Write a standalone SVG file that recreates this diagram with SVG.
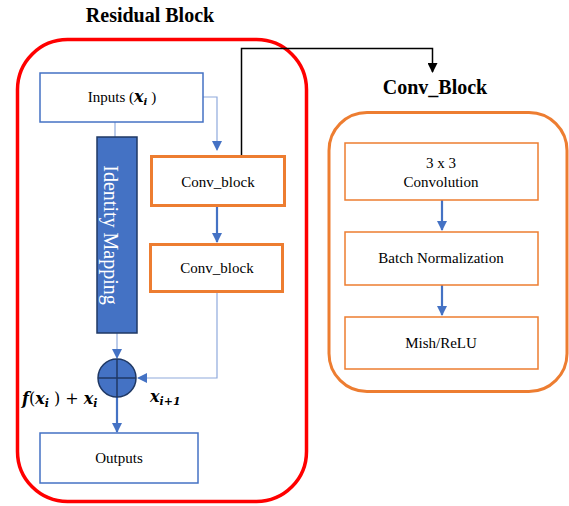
<svg xmlns="http://www.w3.org/2000/svg" width="569" height="506" viewBox="0 0 569 506">
<style>
.t{font-family:"Liberation Serif","Times New Roman",serif;font-size:15px;fill:#000;text-anchor:middle}
.h{font-family:"Liberation Serif","Times New Roman",serif;font-size:20px;font-weight:bold;fill:#000;text-anchor:middle}
.m{font-family:"DejaVu Serif","Liberation Serif",serif;font-style:italic;font-weight:bold;font-size:16px;fill:#000}
.bb{fill:#fff;stroke:#4472C4;stroke-width:1.5}
.ob{fill:#fff;stroke:#ED7D31;stroke-width:3}
.oi{fill:#fff;stroke:#ED7D31;stroke-width:1.5}
.thin{fill:none;stroke:#8FAADC;stroke-width:1.2}
.thick{fill:none;stroke:#4472C4;stroke-width:2.2}
</style>
<defs>
<marker id="ab" markerWidth="10" markerHeight="10" refX="9" refY="5" orient="auto" markerUnits="userSpaceOnUse"><path d="M0,0 L10,5 L0,10 Z" fill="#4472C4"/></marker>
<marker id="ak" markerWidth="10" markerHeight="10" refX="9" refY="5" orient="auto" markerUnits="userSpaceOnUse"><path d="M0,0 L10,5 L0,10 Z" fill="#000"/></marker>
</defs>
<text class="h" x="150" y="22">Residual Block</text>
<text class="h" x="435" y="94">Conv_Block</text>
<g id="residual-block"><rect x="17.5" y="39.5" width="289" height="462" rx="50" fill="none" stroke="#FF0000" stroke-width="3.5"/></g>
<g id="conv-block-container"><rect x="329" y="112.5" width="238" height="279" rx="38" fill="none" stroke="#ED7D31" stroke-width="3"/></g>
<g id="connectors">
<path class="thin" d="M203,97 H217 V150" marker-end="url(#ab)"/>
<path class="thin" d="M115,122 V137"/>
<path class="thick" d="M217,206 V242" marker-end="url(#ab)"/>
<path class="thin" d="M217,292 V378 H138" marker-end="url(#ab)"/>
<path class="thin" d="M117,333 V358" marker-end="url(#ab)"/>
<path class="thick" d="M117,397 V432" marker-end="url(#ab)"/>
<path d="M241.5,156 V48.5 H432.5 V72" fill="none" stroke="#000" stroke-width="1.5" marker-end="url(#ak)"/>
<path class="thick" d="M442,200 V230" marker-end="url(#ab)"/>
<path class="thick" d="M442,285 V315" marker-end="url(#ab)"/>
</g>
<g id="inputs"><rect class="bb" x="40" y="73" width="163" height="49"/><text class="t" x="122" y="102">Inputs (<tspan class="m" style="font-weight:bold;font-size:16px">x</tspan><tspan class="m" style="font-size:10px" dy="3">i</tspan><tspan dy="-3"> )</tspan></text></g>
<g id="identity-mapping"><rect x="97" y="137" width="40" height="196" fill="#4472C4" stroke="#1F3864" stroke-width="1.5"/><text transform="translate(104,235) rotate(90)" class="t" style="font-size:20px;fill:#fff">Identity Mapping</text></g>
<g id="conv-block-1"><rect class="ob" x="151.5" y="156.5" width="133" height="49"/><text class="t" x="218" y="187">Conv_block</text></g>
<g id="conv-block-2"><rect class="ob" x="150.5" y="244.5" width="132" height="47"/><text class="t" x="217" y="273">Conv_block</text></g>
<g id="sum"><circle cx="117" cy="378" r="19" fill="#4472C4" stroke="#1F3864" stroke-width="1.5"/><path d="M98,378 H136 M117,359 V397" stroke="#1F3864" stroke-width="1.5"/></g>
<g id="outputs"><rect class="bb" x="40" y="433" width="158" height="50"/><text class="t" x="119" y="463">Outputs</text></g>
<g id="labels">
<text class="m" x="22" y="404">f<tspan style="font-weight:normal;font-style:normal">(</tspan>x<tspan style="font-size:11px" dy="3">i</tspan><tspan dy="-3" style="font-weight:normal;font-style:normal"> ) + </tspan>x<tspan style="font-size:11px" dy="3">i</tspan></text>
<text class="m" x="150" y="402">x<tspan style="font-size:11px" dy="3">i+1</tspan></text>
</g>
<g id="conv3x3"><rect class="oi" x="345" y="143" width="193" height="57"/><text class="t" x="441" y="168">3 x 3</text><text class="t" x="441" y="187">Convolution</text></g>
<g id="batchnorm"><rect class="oi" x="345" y="232" width="193" height="53"/><text class="t" x="441" y="263">Batch Normalization</text></g>
<g id="mish"><rect class="oi" x="345" y="317" width="193" height="52"/><text class="t" x="441" y="348">Mish/ReLU</text></g>
</svg>
